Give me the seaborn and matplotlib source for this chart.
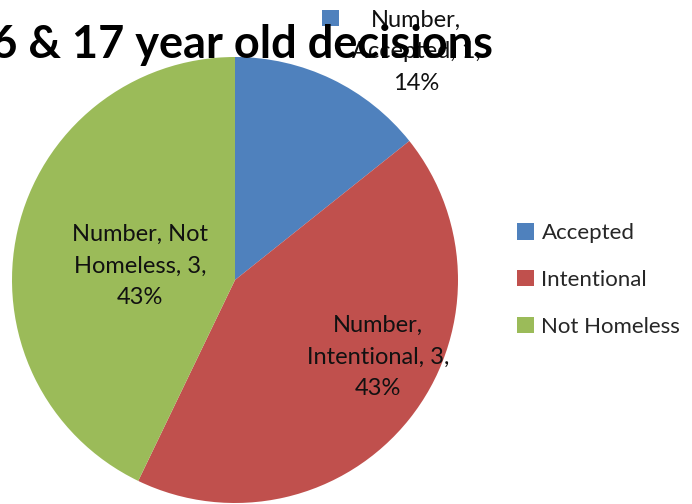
import matplotlib
matplotlib.use("Agg")
import matplotlib.pyplot as plt
import seaborn as sns
from matplotlib.patches import Rectangle

categories = ["Accepted", "Intentional", "Not Homeless"]
values = [1, 3, 3]
percents = ["14%", "43%", "43%"]
colors = ["#4F81BD", "#C0504D", "#9BBB59"]
title = "16 & 17 year old decisions"

sns.set_theme(style="white")
plt.rcParams['font.family'] = ['Lato', 'DejaVu Sans']

W, H = 692, 504
fig = plt.figure(figsize=(W / 100, H / 100), dpi=100)
fig.patch.set_facecolor("white")

cx, cy, r = 235, 280, 223
ax = fig.add_axes([(cx - r) / W, (H - cy - r) / H, 2 * r / W, 2 * r / H])
wedges, _ = ax.pie(values, colors=colors, startangle=90, counterclock=False,
                   radius=1.0, wedgeprops=dict(linewidth=0))
ax.set_xlim(-1, 1)
ax.set_ylim(-1, 1)
ax.set_aspect("equal")
ax.axis("off")

def px(x, y):
    return x / W, 1 - y / H

label_texts = [f"Number,\n{categories[0]}, {values[0]},\n{percents[0]}",
               f"Number,\n{categories[1]}, {values[1]},\n{percents[1]}",
               f"Number, Not\nHomeless, {values[2]},\n{percents[2]}"]
label_pos = [(416, 52), (378, 357), (140, 266)]
for t, (x, y) in zip(label_texts, label_pos):
    fig.text(*px(x, y), t, ha="center", va="center", fontsize=17,
             linespacing=1.62, color="#111111")

# legend key next to Accepted label
fig.patches.append(Rectangle(px(322, 26), 17 / W, 16 / H, transform=fig.transFigure,
                             facecolor=colors[0], edgecolor="none"))

fig.text(*px(493, 58), title, ha="right", va="baseline", fontsize=32.5,
         fontweight="bold", color="black")

fig.legend(wedges, categories, loc="center left", bbox_to_anchor=(497 / W, 1 - 280 / H),
           frameon=False, fontsize=16, handlelength=0.75, handleheight=0.75,
           handletextpad=0.35, labelspacing=1.2)

fig.savefig("out.png", dpi=100)
